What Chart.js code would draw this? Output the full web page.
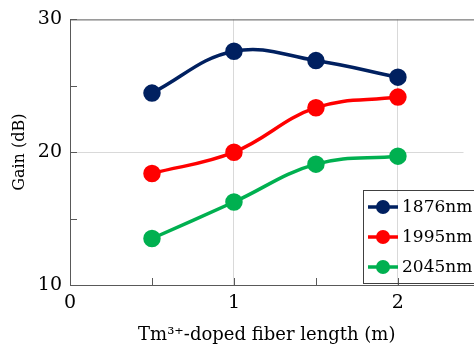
<!DOCTYPE html>
<html>
<head>
<meta charset="utf-8">
<script src="https://cdn.jsdelivr.net/npm/chart.js@4/dist/chart.umd.min.js"></script>
<style>
  html, body { margin: 0; padding: 0; background: #fff; overflow: hidden; }
  #wrap { width: 474px; height: 350px; }
</style>
</head>
<body>
<div id="wrap"><canvas id="chart" width="474" height="350"></canvas></div>
<script>
const lengths = [0.5, 1, 1.5, 2];
const seriesNames = ['1876nm', '1995nm', '2045nm'];
const gain1876 = [24.45, 27.6, 26.9, 25.65];
const gain1995 = [18.4, 20.0, 23.35, 24.15];
const gain2045 = [13.5, 16.25, 19.1, 19.7];
const xTicks = [0, 0.5, 1, 1.5, 2];
const yTicks = [10, 15, 20, 25, 30];
const seriesColors = ['#002060', '#ff0000', '#00b050'];

const serif = '"DejaVu Serif", serif';
const axisColor = '#595959';
const gridColor = '#d9d9d9';

function makeSet(i, values) {
    return {
        label: seriesNames[i],
        data: lengths.map((x, k) => ({ x: x, y: values[k] })),
        borderColor: seriesColors[i],
        backgroundColor: seriesColors[i],
        borderWidth: 3.5,
        pointRadius: 7,
        pointHoverRadius: 7,
        tension: 0.4,
        clip: false
    };
}

// inner tick marks + framed legend
const decorations = {
    id: 'decorations',
    afterDatasetsDraw(chart) {
        const ctx = chart.ctx;
        const area = chart.chartArea;
        const xs = chart.scales.x;
        const ys = chart.scales.y;
        ctx.save();
        ctx.strokeStyle = axisColor;
        ctx.lineWidth = 1;
        ctx.beginPath();
        yTicks.forEach(v => {
            const py = Math.round(ys.getPixelForValue(v)) + 0.5;
            ctx.moveTo(area.left, py);
            ctx.lineTo(area.left + 7, py);
        });
        xTicks.forEach(v => {
            const px = Math.round(xs.getPixelForValue(v)) + 0.5;
            ctx.moveTo(px, area.bottom);
            ctx.lineTo(px, area.bottom - 7);
        });
        // frame lines running to the right edge
        ctx.moveTo(area.left, area.top + 0.5);
        ctx.lineTo(chart.width, area.top + 0.5);
        ctx.moveTo(area.left, Math.round(area.bottom) + 0.5);
        ctx.lineTo(chart.width, Math.round(area.bottom) + 0.5);
        ctx.stroke();

        // legend box
        const bx = 363.5, by = 190.5, bw = 120, bh = 93;
        ctx.strokeStyle = '#404040';
        ctx.strokeRect(bx, by, bw, bh);
        ctx.font = '17px ' + serif;
        ctx.textBaseline = 'middle';
        ctx.textAlign = 'left';
        chart.data.datasets.forEach((ds, i) => {
            const cy = 207 + i * 30;
            ctx.strokeStyle = ds.borderColor;
            ctx.lineWidth = 3.5;
            ctx.beginPath();
            ctx.moveTo(368, cy);
            ctx.lineTo(398, cy);
            ctx.stroke();
            ctx.fillStyle = ds.backgroundColor;
            ctx.beginPath();
            ctx.arc(383, cy, 7, 0, Math.PI * 2);
            ctx.fill();
            ctx.fillStyle = '#000';
            ctx.fillText(ds.label, 402, cy + 1);
        });
        ctx.restore();
    }
};

new Chart(document.getElementById('chart'), {
    type: 'line',
    data: {
        datasets: [
            makeSet(0, gain1876),
            makeSet(1, gain1995),
            makeSet(2, gain2045)
        ]
    },
    options: {
        responsive: false,
        animation: false,
        layout: { padding: { top: 18, right: 0, bottom: 0, left: 0 } },
        plugins: {
            legend: { display: false },
            tooltip: { enabled: false }
        },
        scales: {
            x: {
                type: 'linear',
                min: 0,
                max: 2.40,
                afterBuildTicks: s => { s.ticks = xTicks.map(v => ({ value: v })); },
                afterFit: s => { s.height = 65; },
                border: { display: true, color: axisColor, width: 1 },
                grid: {
                    drawTicks: false,
                    color: c => (c.tick && (c.tick.value === 1 || c.tick.value === 2)) ? gridColor : 'rgba(0,0,0,0)'
                },
                ticks: {
                    padding: 7,
                    color: '#000',
                    maxRotation: 0,
                    font: { family: serif, size: 19 },
                    callback: v => Number.isInteger(v) ? String(v) : ''
                },
                title: {
                    display: true,
                    text: 'Tm\u00b3\u207a-doped fiber length (m)',
                    color: '#000',
                    font: { family: serif, size: 18 },
                    padding: { top: 0, bottom: 4 }
                }
            },
            y: {
                min: 10,
                max: 30,
                afterBuildTicks: s => { s.ticks = yTicks.map(v => ({ value: v })); },
                afterFit: s => { s.width = 70; },
                border: { display: true, color: axisColor, width: 1 },
                grid: {
                    drawTicks: false,
                    color: c => (c.tick && c.tick.value === 20) ? gridColor : 'rgba(0,0,0,0)'
                },
                ticks: {
                    padding: 8,
                    color: '#000',
                    font: { family: serif, size: 19 },
                    callback: v => (v % 10 === 0) ? String(v) : ''
                },
                title: {
                    display: true,
                    text: 'Gain (dB)',
                    color: '#000',
                    font: { family: serif, size: 16 },
                    padding: { top: 10, bottom: 0 }
                }
            }
        }
    },
    plugins: [decorations]
});
</script>
</body>
</html>
